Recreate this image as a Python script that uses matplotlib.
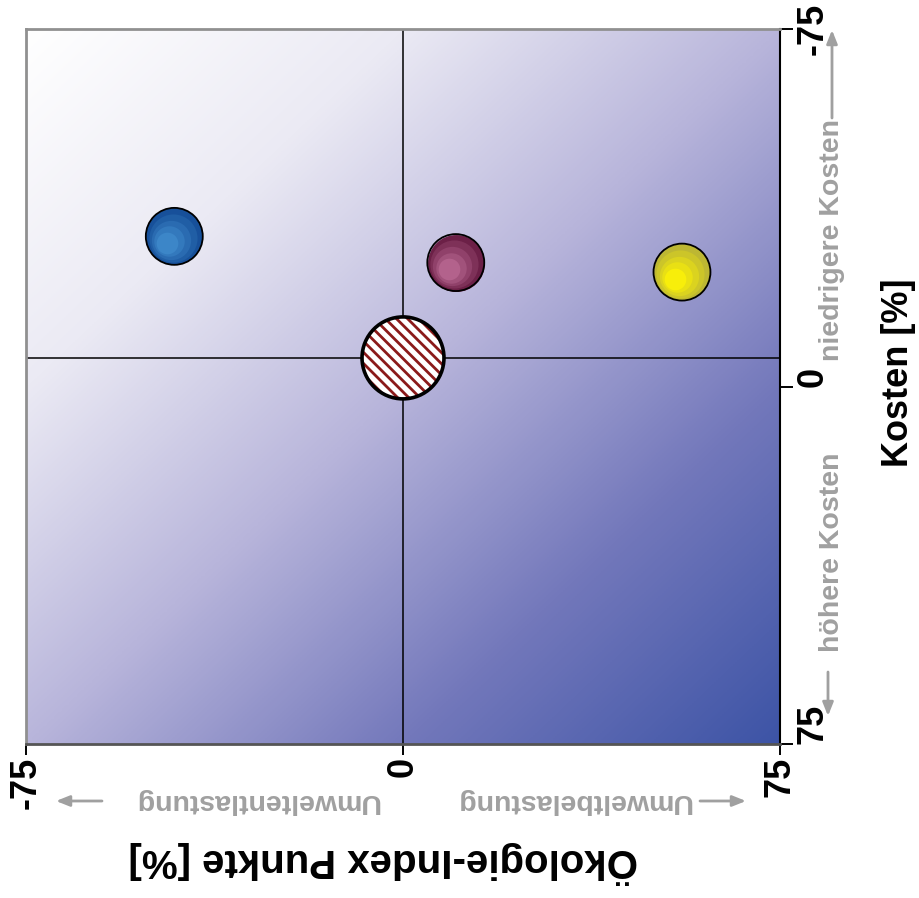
import numpy as np
import matplotlib
matplotlib.use("Agg")
import matplotlib.pyplot as plt
import matplotlib.transforms as mtransforms
from matplotlib.patches import FancyArrowPatch
from matplotlib.colors import LinearSegmentedColormap, to_rgb

plt.rcParams['font.family'] = ['Liberation Sans', 'DejaVu Sans']
plt.rcParams['hatch.linewidth'] = 2.0
plt.rcParams['hatch.color'] = '#8b1a1a'

# ---- data ----
eco_index = [-45.5, 10.5, 55.5]          # Ökologie-Index Punkte [%]
costs = [-31.5, -26.0, -24.0]            # Kosten [%]
ball_dark = ['#17509a', '#6c2047', '#bdb733']
ball_light = ['#3c86c8', '#b3628c', '#f8ee0a']
ref_eco = 0.0
ref_cost = -6.0
x_ticks = [-75, 0, 75]
y_ticks = [-75, 0, 75]
x_ticklabels = ['-75', '0', '75']
y_ticklabels = ['-75', '0', '75']

W, H = 919, 898
fig = plt.figure(figsize=(W / 100, H / 100), dpi=100)
ax = fig.add_axes([26 / W, 1 - 744 / H, (780 - 26) / W, (744 - 29) / H])

# gradient background
cmap = LinearSegmentedColormap.from_list(
    'bg', [(0.0, '#ffffff'), (0.25, '#ebeaf4'), (0.5, '#b8b5db'),
           (0.75, '#7378bb'), (1.0, '#3d54a6')])
u = np.linspace(0, 1, 400)
v = np.linspace(0, 1, 400)
U, V = np.meshgrid(u, v)
T = (U + V) / 2
ax.imshow(T, cmap=cmap, vmin=0, vmax=1, extent=[0, 1, 0, 1], transform=ax.transAxes,
          aspect='auto', origin='upper', zorder=0, interpolation='bilinear')

ax.set_xlim(-75, 75)
ax.set_ylim(75, -75)

# cross lines through reference
ax.axvline(ref_eco, color='black', lw=1.1, zorder=1)
ax.axhline(ref_cost, color='black', lw=1.1, zorder=1)

# shaded balls
D = 41.0  # points
nlev = 5
for x, y, dk, lt in zip(eco_index, costs, ball_dark, ball_light):
    c0 = np.array(to_rgb(dk))
    c1 = np.array(to_rgb(lt))
    for k in range(nlev):
        f = k / (nlev - 1)
        d = D * (1 - 0.62 * f)
        dx = -0.12 * D * f / 72
        dy = -0.12 * D * f / 72
        tr = ax.transData + mtransforms.ScaledTranslation(dx, dy, fig.dpi_scale_trans)
        ax.scatter([x], [y], s=d ** 2, color=c0 * (1 - f) + c1 * f, lw=0,
                   transform=tr, zorder=3 + k * 0.01)
    ax.scatter([x], [y], s=D ** 2, facecolor='none', edgecolor='black', lw=1.3, zorder=4)

# hatched reference
ax.scatter([ref_eco], [ref_cost], s=59 ** 2, facecolor='white', edgecolor='#8b1a1a',
           hatch='\\\\\\', lw=0, zorder=5)
ax.scatter([ref_eco], [ref_cost], s=59 ** 2, facecolor='none', edgecolor='black',
           lw=2.6, zorder=6)

# spines
for s in ['left', 'top']:
    ax.spines[s].set_color('#909090')
    ax.spines[s].set_linewidth(2.0)
ax.spines['bottom'].set_color('#555555')
ax.spines['bottom'].set_linewidth(2.0)
ax.spines['right'].set_color('black')
ax.spines['right'].set_linewidth(1.5)

ax.set_xticks(x_ticks)
ax.set_xticklabels(x_ticklabels, rotation=90, fontsize=26, fontweight='bold',
                   va='top', ha='center')
ax.yaxis.tick_right()
ax.set_yticks(y_ticks)
ax.set_yticklabels(y_ticklabels, rotation=90, fontsize=26, fontweight='bold',
                   va='bottom', ha='left')
ax.get_yticklabels()[0].set_va('center')
ax.tick_params(axis='x', direction='out', length=8, width=1.4, color='black', pad=1)
ax.tick_params(axis='y', direction='out', length=9, width=1.4, color='black', pad=2)


def fx(px):
    return px / W


def fy(py):
    return 1 - py / H


gray = '#a0a0a0'
gs = 20.5
fig.text(fx(257), fy(801), 'Umweltentlastung', rotation=180, ha='center', va='center',
         color=gray, fontsize=gs, fontweight='bold')
fig.text(fx(573), fy(801), 'Umweltbelastung', rotation=180, ha='center', va='center',
         color=gray, fontsize=gs, fontweight='bold')
fig.text(fx(832), fy(552), 'höhere Kosten', rotation=90, ha='center', va='center',
         color=gray, fontsize=gs, fontweight='bold')
fig.text(fx(832), fy(240), 'niedrigere Kosten', rotation=90, ha='center', va='center',
         color=gray, fontsize=gs, fontweight='bold')

for (x0, y0, x1, y1) in [(102, 801, 56, 801), (700, 801, 746, 801),
                         (832, 118, 832, 30), (828, 672, 828, 716)]:
    fig.add_artist(FancyArrowPatch(
        (fx(x0), fy(y0)), (fx(x1), fy(y1)), transform=fig.transFigure,
        arrowstyle='-|>,head_length=0.4,head_width=0.16', mutation_scale=20,
        color=gray, lw=2.0, shrinkA=0, shrinkB=0))

fig.text(fx(383), fy(862), 'Ökologie-Index Punkte [%]', rotation=180, ha='center',
         va='center', fontsize=29, fontweight='bold')
fig.text(fx(899), fy(373), 'Kosten [%]', rotation=90, ha='center', va='center',
         fontsize=26, fontweight='bold')

fig.savefig('out.png', dpi=100)
